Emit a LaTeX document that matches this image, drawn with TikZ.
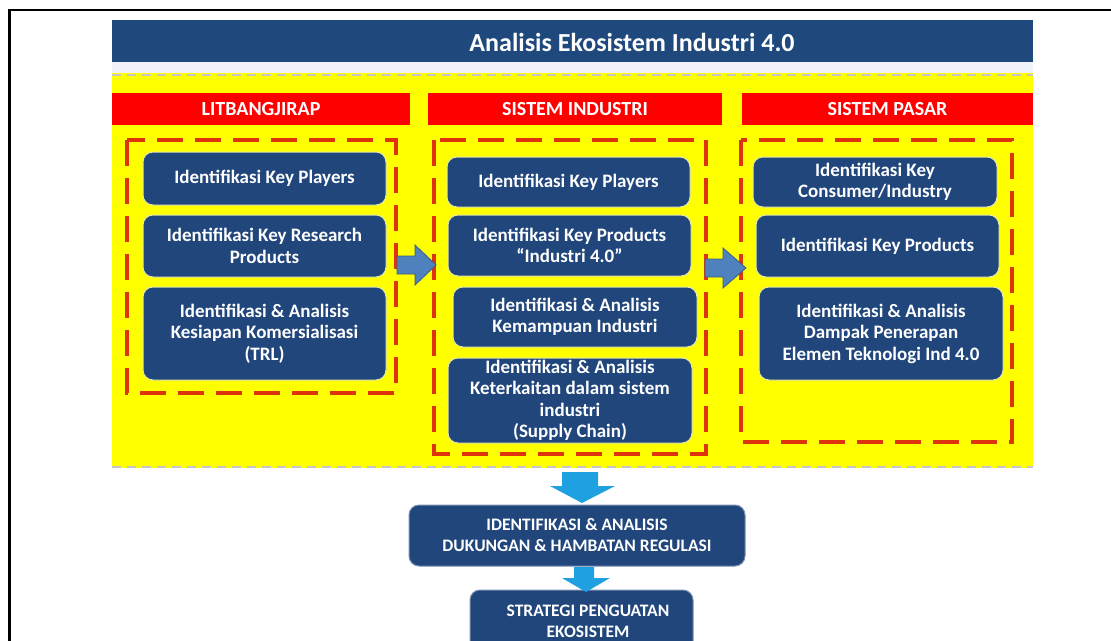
\documentclass[tikz,border=0pt]{standalone}
\usepackage{fontspec}
\setmainfont{Carlito}
\definecolor{navy}{RGB}{31,73,125}
\definecolor{boxblue}{RGB}{32,70,124}
\definecolor{hdrred}{RGB}{255,0,0}
\definecolor{dashred}{RGB}{222,52,12}
\definecolor{yel}{RGB}{255,255,0}
\definecolor{arrowblue}{RGB}{79,129,189}
\definecolor{arrowedge}{RGB}{56,93,138}
\definecolor{downblue}{RGB}{30,160,225}
\definecolor{strip}{RGB}{240,242,249}
\definecolor{boxedge}{RGB}{225,230,170}
\tikzset{
  bluebox/.style={rounded corners=10pt, fill=boxblue, draw=boxedge, line width=1pt,
    text=white, align=center, inner sep=0pt,
    font=\bfseries\fontsize{19}{21.5}\selectfont},
  capsbox/.style={bluebox, draw=boxblue!60!white, font=\bfseries\fontsize{17.5}{21}\selectfont},
  header/.style={fill=hdrred, text=white, inner sep=0pt,
    font=\bfseries\fontsize{20}{22}\selectfont},
  groupbox/.style={draw=dashred, line width=3.4pt, dash pattern=on 26pt off 12pt},
  rightarrow/.style={fill=arrowblue, draw=arrowedge, line width=0.8pt},
  downarrow/.style={fill=downblue, draw=none},
}
\begin{document}
\begin{tikzpicture}[x=1pt,y=-1pt]
\useasboundingbox (0,0) rectangle (1111,640);
\clip (0,0) rectangle (1111,640);
\fill[white] (0,0) rectangle (1111,640);

% outer frame
\draw[line width=2.2pt] (9.5,641) -- (9.5,10) -- (1112,10);

% title bar and band below it
\fill[navy] (112,20) rectangle (1033,62);
\node[text=white, font=\bfseries\fontsize{26}{28}\selectfont] (title) at (632,42) {Analisis Ekosistem Industri 4.0};
\fill[strip] (112,62) rectangle (1033,73);

% yellow work area
\fill[yel] (112,73) rectangle (1033,468);
\draw[gray!45, line width=1.2pt, dash pattern=on 9pt off 6pt] (112,75) -- (1033,75);
\draw[gray!45, line width=1.2pt, dash pattern=on 9pt off 6pt] (112,467) -- (1033,467);

% column headers
\node[header, minimum width=298, minimum height=32] (h1) at (261,109) {LITBANGJIRAP};
\node[header, minimum width=294, minimum height=32] (h2) at (575,109) {SISTEM INDUSTRI};
\node[header, minimum width=291, minimum height=32] (h3) at (887.5,109) {SISTEM PASAR};

% dashed group frames
\draw[groupbox] (127,140) rectangle (396,393);
\draw[groupbox] (434,140) rectangle (706,454);
\draw[groupbox] (741,140) rectangle (1012,442);

% left column
\node[bluebox, minimum width=243, minimum height=53] (l1) at (264.5,178.5) {Identifikasi Key Players};
\node[bluebox, minimum width=243, minimum height=62] (l2) at (264.5,246) {Identifikasi Key Research\\Products};
\node[bluebox, minimum width=243, minimum height=93] (l3) at (264.5,333.5) {Identifikasi \& Analisis\\Kesiapan Komersialisasi\\(TRL)};

% middle column
\node[bluebox, minimum width=243, minimum height=50] (m1) at (568.5,182) {Identifikasi Key Players};
\node[bluebox, minimum width=243, minimum height=61] (m2) at (569.5,245.5) {Identifikasi Key Products\\``Industri 4.0''};
\node[bluebox, minimum width=244, minimum height=60] (m3) at (575,317) {Identifikasi \& Analisis\\Kemampuan Industri};
\node[bluebox, minimum width=244, minimum height=85] (m4) at (570,400.5) {Identifikasi \& Analisis\\Keterkaitan dalam sistem\\industri\\(Supply Chain)};

% right column
\node[bluebox, minimum width=244, minimum height=50] (r1) at (875,182) {Identifikasi Key\\Consumer/Industry};
\node[bluebox, minimum width=243, minimum height=62] (r2) at (877.5,246) {Identifikasi Key Products};
\node[bluebox, minimum width=244, minimum height=93] (r3) at (881,333.5) {Identifikasi \& Analisis\\Dampak Penerapan\\Elemen Teknologi Ind 4.0};

% block arrows between the columns
\draw[rightarrow] (397,256) -- (415,256) -- (415,245) -- (436,265) -- (415,285) -- (415,274) -- (397,274) -- cycle;
\draw[rightarrow] (705,259) -- (723,259) -- (723,248) -- (746,268) -- (723,288) -- (723,277) -- (705,277) -- cycle;

% lower chain
\node[capsbox, minimum width=336, minimum height=61] (reg) at (577,535.5) {IDENTIFIKASI \& ANALISIS\\DUKUNGAN \& HAMBATAN REGULASI};
\node[capsbox, minimum width=223, minimum height=70] (strat) at (581.5,625) {};
\node[text=white, align=center, font=\bfseries\fontsize{17.5}{21}\selectfont] (stratlabel) at (588,621.5) {STRATEGI PENGUATAN\\EKOSISTEM};

\fill[downarrow] (562,472) -- (598,472) -- (598,486) -- (615,486) -- (582,503) -- (550,486) -- (562,486) -- cycle;
\fill[downarrow] (574,567) -- (594,567) -- (594,578) -- (610,578) -- (586,592) -- (562,578) -- (574,578) -- cycle;
\end{tikzpicture}
\end{document}
